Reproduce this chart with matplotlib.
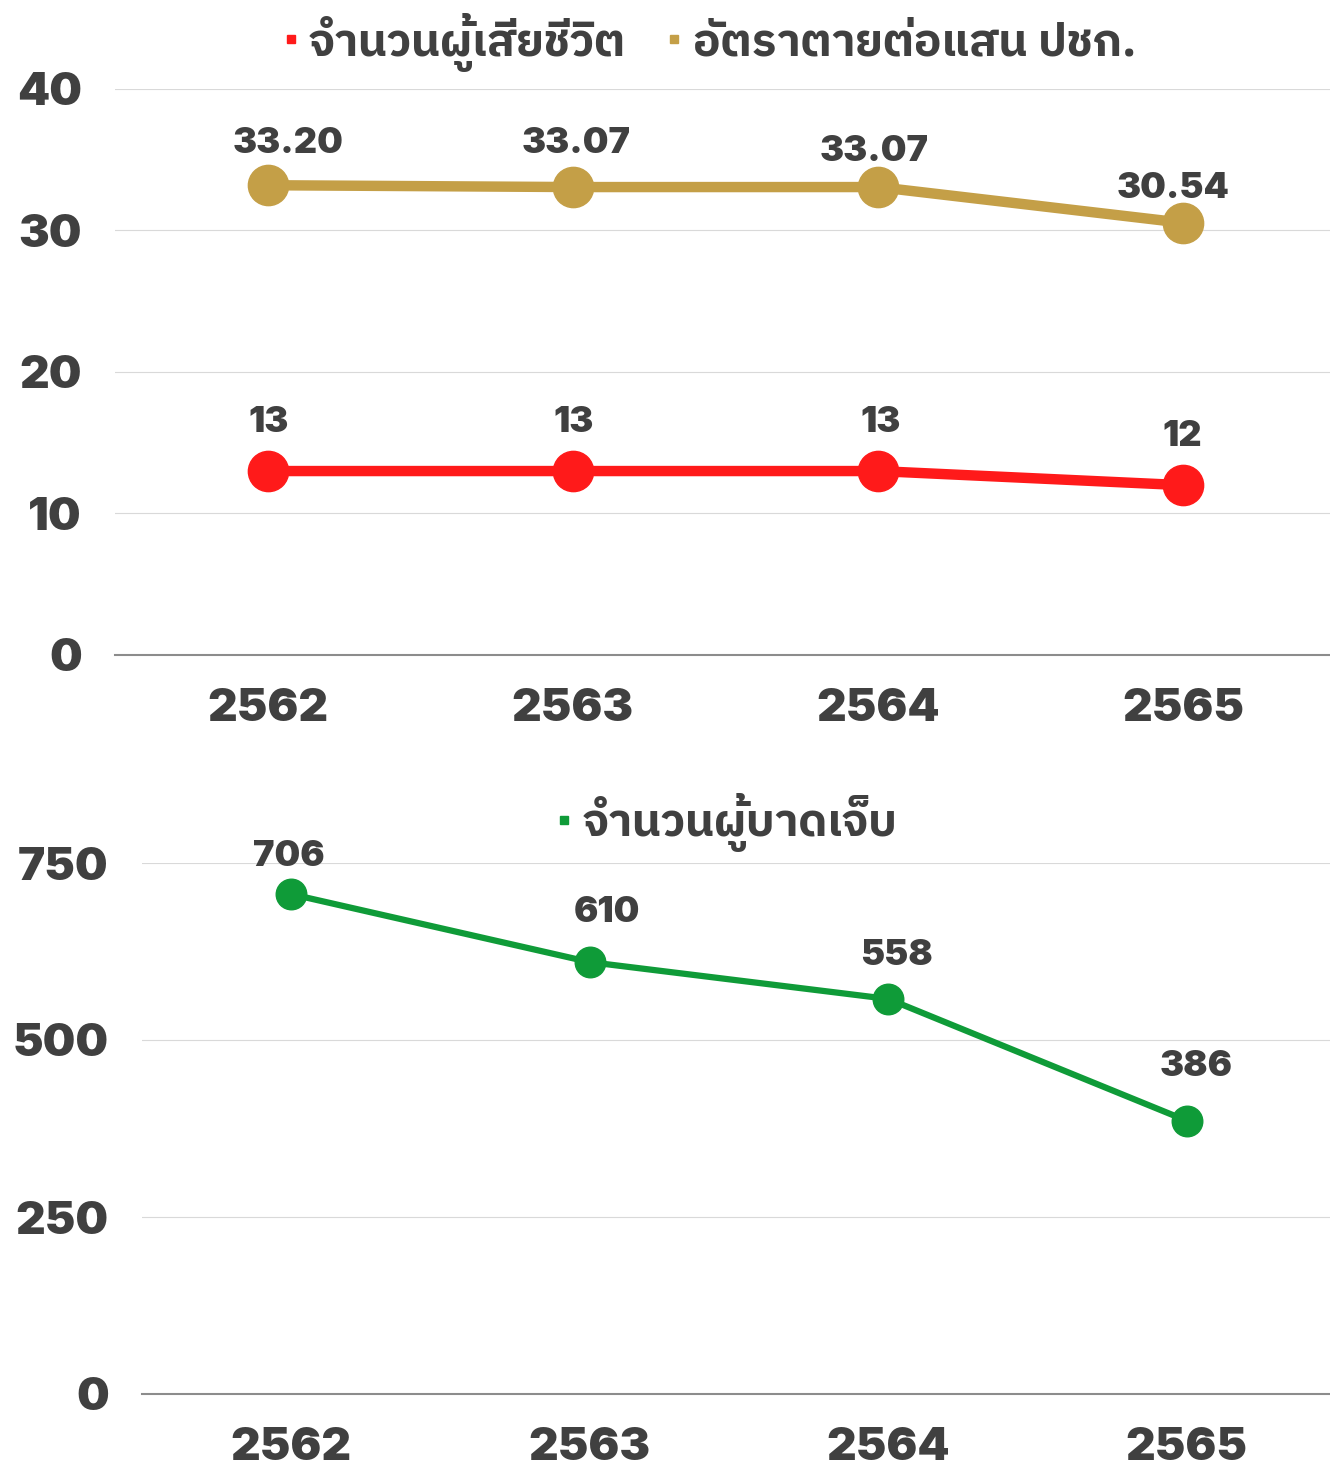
import matplotlib
matplotlib.use('Agg')
import matplotlib.pyplot as plt
from matplotlib import font_manager as fm
from matplotlib.ft2font import FT2Font
from matplotlib.lines import Line2D

# ---------------- data ----------------
years = ['2562', '2563', '2564', '2565']
deaths = [13, 13, 13, 12]
death_rate = [33.20, 33.07, 33.07, 30.54]
injured = [706, 610, 558, 386]
deaths_labels = ['13', '13', '13', '12']
rate_labels = ['33.20', '33.07', '33.07', '30.54']
injured_labels = ['706', '610', '558', '386']
legend_top = ['จำนวนผู้เสียชีวิต', 'อัตราตายต่อแสน ปชก.']
legend_bottom = ['จำนวนผู้บาดเจ็บ']
top_yticks = [0, 10, 20, 30, 40]
bottom_yticks = [0, 250, 500, 750]

# ---------------- fonts ----------------
def find_thai_family():
    best = None
    for f in fm.fontManager.ttflist:
        try:
            cm = FT2Font(f.fname).get_charmap()
        except Exception:
            continue
        if 0x0E08 in cm and 0x0E33 in cm:
            score = (('Thai' in f.name) * 2) + (f.weight in ('bold', 700, 600, 'semibold') or (isinstance(f.weight, int) and f.weight >= 600))
            if best is None or score > best[0]:
                best = (score, f.name)
    return best[1] if best else 'DejaVu Sans'

THAI = find_thai_family()

def find_heavy_family():
    pref = ['Inter', 'Roboto', 'Lato', 'Open Sans', 'Noto Sans']
    weights = {}
    for f in fm.fontManager.ttflist:
        w = f.weight
        if isinstance(w, str):
            w = {'ultralight': 200, 'light': 300, 'normal': 400, 'regular': 400, 'book': 400,
                 'medium': 500, 'roman': 400, 'semibold': 600, 'demibold': 600, 'demi': 600,
                 'bold': 700, 'heavy': 800, 'extra bold': 800, 'black': 900}.get(w, 400)
        weights[f.name] = max(weights.get(f.name, 0), w)
    for p in pref:
        if weights.get(p, 0) >= 800:
            return p
    return 'DejaVu Sans'

HEAVY = find_heavy_family()

TEXT = '#404040'
RED = '#FF1A1A'
GOLD = '#C49F47'
GREEN = '#0F9B38'
GRID = '#D9D9D9'
BASE = '#8C8C8C'

W, H = 1330, 1470
fig = plt.figure(figsize=(W / 100, H / 100), dpi=100)

def px_axes(left, right, top, bottom):
    return fig.add_axes([left / W, 1 - bottom / H, (right - left) / W, (bottom - top) / H])

def style_axes(ax, yticks, ylim):
    ax.set_xlim(-0.5, 3.5)
    ax.set_ylim(*ylim)
    ax.set_yticks(yticks)
    ax.set_xticks(range(len(years)))
    ax.set_xticklabels(years)
    for s in ['top', 'right', 'left']:
        ax.spines[s].set_visible(False)
    ax.spines['bottom'].set_color(BASE)
    ax.spines['bottom'].set_linewidth(1.5)
    ax.grid(axis='y', color=GRID, linewidth=0.8)
    ax.set_axisbelow(True)
    ax.tick_params(axis='both', length=0, colors=TEXT)
    ax.tick_params(axis='y', pad=24)
    ax.tick_params(axis='x', pad=24)
    for lab in ax.get_yticklabels() + ax.get_xticklabels():
        lab.set_fontfamily(HEAVY)
        lab.set_fontweight(900)
        lab.set_fontsize(33)
        lab.set_color(TEXT)

# ---------------- top chart ----------------
ax1 = px_axes(115, 1336, 89, 655)
x = list(range(len(years)))
ax1.plot(x, death_rate, color=GOLD, lw=7.5, marker='o', ms=29, zorder=3)
ax1.plot(x, deaths, color=RED, lw=7.5, marker='o', ms=29, zorder=3)
style_axes(ax1, top_yticks, (0, 40))

rate_off = [(20, 42), (3, 44), (-4, 36), (-10, 34)]
for i, (v, t) in enumerate(zip(death_rate, rate_labels)):
    ax1.annotate(t, (i, v), xytext=rate_off[i], textcoords='offset pixels', ha='center', va='center',
                 fontsize=26, fontfamily=HEAVY, fontweight=900, color=TEXT)
death_off = [(1, 49), (1, 49), (3, 49), (-1, 49)]
for i, (v, t) in enumerate(zip(deaths, deaths_labels)):
    ax1.annotate(t, (i, v), xytext=death_off[i], textcoords='offset pixels', ha='center', va='center',
                 fontsize=26, fontfamily=HEAVY, fontweight=900, color=TEXT)

h1 = [Line2D([], [], ls='none', marker='s', ms=6, color=RED),
      Line2D([], [], ls='none', marker='s', ms=6, color=GOLD)]
leg1 = fig.legend(h1, legend_top, loc='center', bbox_to_anchor=(710 / W, 1 - 42 / H), ncol=2,
                  frameon=False, handlelength=0.3, handletextpad=0.25, columnspacing=0.9,
                  prop={'family': THAI, 'weight': 'bold', 'size': 33})
for t in leg1.get_texts():
    t.set_color(TEXT)

# ---------------- bottom chart ----------------
ax2 = px_axes(142, 1336, 863, 1394)
ax2.plot(x, injured, color=GREEN, lw=4.5, marker='o', ms=22, zorder=3)
style_axes(ax2, bottom_yticks, (0, 750))

inj_off = [(-2, 38), (17, 50), (8, 43), (9, 54)]
for i, (v, t) in enumerate(zip(injured, injured_labels)):
    ax2.annotate(t, (i, v), xytext=inj_off[i], textcoords='offset pixels', ha='center', va='center',
                 fontsize=26, fontfamily=HEAVY, fontweight=900, color=TEXT)

h2 = [Line2D([], [], ls='none', marker='s', ms=6, color=GREEN)]
leg2 = fig.legend(h2, legend_bottom, loc='center', bbox_to_anchor=(727 / W, 1 - 823 / H), ncol=1,
                  frameon=False, handlelength=0.3, handletextpad=0.25,
                  prop={'family': THAI, 'weight': 'bold', 'size': 33})
for t in leg2.get_texts():
    t.set_color(TEXT)

fig.savefig('out.png', dpi=100)
